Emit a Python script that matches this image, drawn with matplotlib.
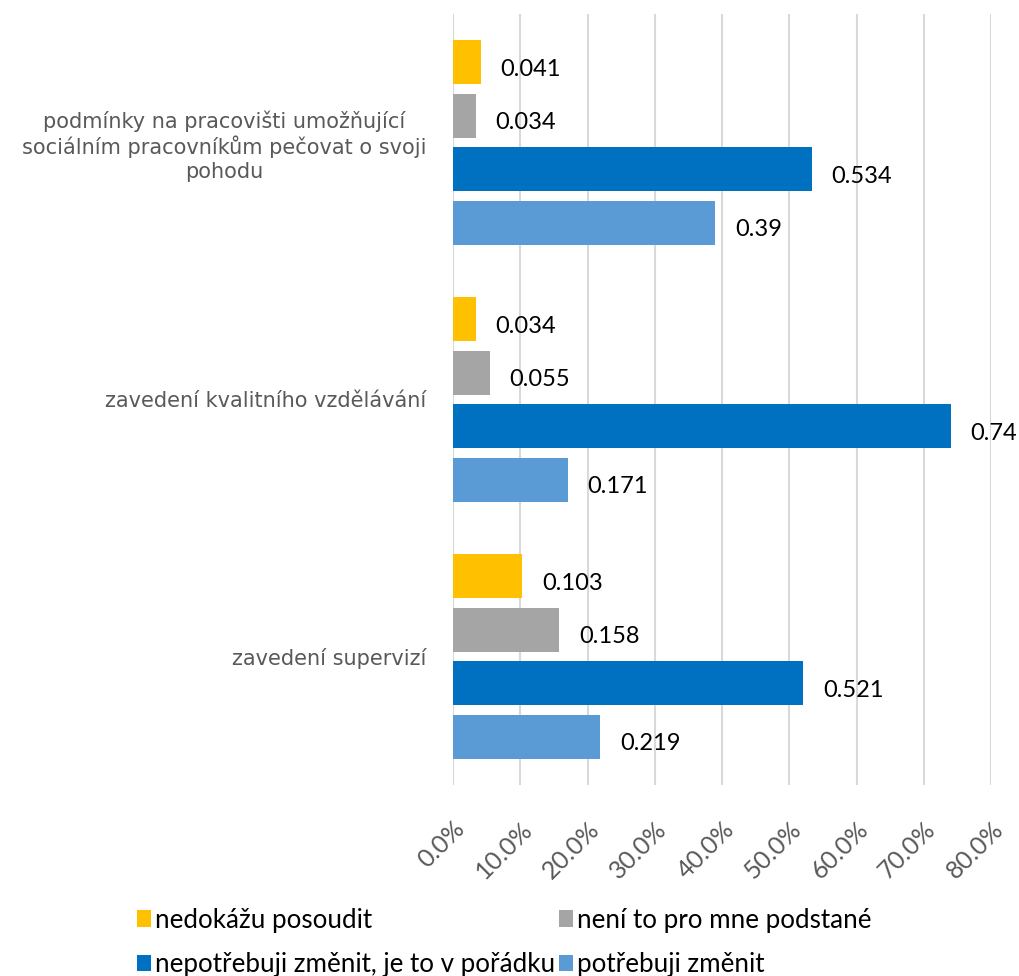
import numpy as np
import matplotlib.pyplot as plt
from matplotlib.ticker import PercentFormatter

# categories listed top to bottom
categories = ['podmínky na pracovišti umožňující\nsociálním pracovníkům pečovat o svoji\npohodu',
              'zavedení kvalitního vzdělávání',
              'zavedení supervizí']
series = ['nedokážu posoudit', 'není to pro mne podstané',
          'nepotřebuji změnit, je to v pořádku', 'potřebuji změnit']
nedokazu = [0.041, 0.034, 0.103]
neni_podstatne = [0.034, 0.055, 0.158]
nepotrebuji = [0.534, 0.74, 0.521]
potrebuji = [0.39, 0.171, 0.219]
colors = ['#FFC000', '#A5A5A5', '#0070C0', '#5B9BD5']
xticks = np.arange(0, 0.81, 0.1)

values = [nedokazu, neni_podstatne, nepotrebuji, potrebuji]
offsets = [0.3125, 0.104, -0.104, -0.3125]
ypos = np.arange(len(categories))[::-1]

fig = plt.figure(figsize=(10.19, 9.76), dpi=100)
ax = fig.add_axes([0.4446, 0.1957, 0.528, 0.79])

bars = []
for vals, off, col, name in zip(values, offsets, colors, series):
    b = ax.barh(ypos + off, vals, height=0.171, color=col, label=name, zorder=3)
    bars.append(b)
    for y, v in zip(ypos + off, vals):
        ax.annotate(f'{v:g}', (v, y), xytext=(14, -5), textcoords='offset points',
                    va='center', ha='left', fontsize=17, family='Lato', color='black')

ax.set_xlim(0, 0.8)
ax.set_ylim(-0.5, 2.5)
ax.set_xticks(xticks)
ax.xaxis.set_major_formatter(PercentFormatter(1.0, decimals=1))
ax.set_yticks(ypos)
ax.set_yticklabels(categories)
for lbl in ax.get_yticklabels():
    lbl.set_family('DejaVu Sans')
    lbl.set_fontsize(15)
    lbl.set_color('#595959')
    lbl.set_ha('right')
    lbl.set_multialignment('center')
    lbl.set_linespacing(1.2)
ax.tick_params(axis='y', length=0, pad=19)
ax.tick_params(axis='x', length=0, labelsize=18, labelcolor='#595959', pad=23)
for lbl in ax.get_xticklabels():
    lbl.set_rotation(45)
    lbl.set_ha('right')
    lbl.set_rotation_mode('anchor')
    lbl.set_family('Lato')
ax.grid(axis='x', color='#D9D9D9', linewidth=1.5, zorder=0)
for s in ax.spines.values():
    s.set_visible(False)

handles = [bars[0], bars[2], bars[1], bars[3]]
labels = [series[0], series[2], series[1], series[3]]
fig.legend(handles, labels, ncol=2, loc='upper left', bbox_to_anchor=(0.1344, 0.070),
           frameon=False, prop={'family': 'Lato', 'size': 18.7},
           handlelength=0.55, handleheight=0.6, handletextpad=0.15,
           columnspacing=0.15, labelspacing=0.75, borderpad=0, borderaxespad=0)

fig.savefig('out.png', dpi=100)
